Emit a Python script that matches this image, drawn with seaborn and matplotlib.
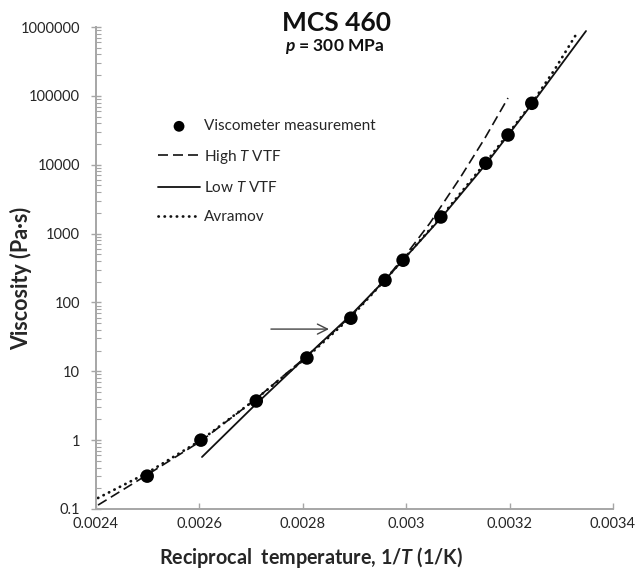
import pandas as pd
import matplotlib.pyplot as plt
import seaborn as sns
from matplotlib.ticker import FixedLocator, LogLocator, NullFormatter

# viscometer measurements
meas_x = [0.002499, 0.002603, 0.00271, 0.002808, 0.002893, 0.002959,
          0.002994, 0.003067, 0.003154, 0.003197, 0.003243]
meas_y = [0.30, 1.0, 3.7, 15.6, 59, 210, 410, 1740, 10500, 27000, 78000]

# high T VTF fit
hi_x = [0.002404, 0.0024986, 0.002603, 0.0027095, 0.0028081, 0.0028932,
        0.002959, 0.0030035, 0.003046, 0.0031041, 0.0031524, 0.0031969]
hi_y = [0.114, 0.312, 0.97, 3.96, 16.7, 63.5, 212, 540, 1422, 6410, 24430, 93100]

# low T VTF fit
lo_x = [0.002605, 0.0027037, 0.0028081, 0.0028932, 0.002959, 0.0030673,
        0.0031544, 0.0032433, 0.0033478]
lo_y = [0.569, 3.03, 16.7, 65.7, 212, 1683, 10240, 76200, 874000]

# Avramov fit
av_x = [0.002404, 0.0024986, 0.002603, 0.0027095, 0.0028081, 0.0028932,
        0.002959, 0.0030673, 0.0031544, 0.0031969, 0.0032433, 0.0032878,
        0.0033304]
av_y = [0.1445, 0.333, 1.0, 3.96, 16.1, 61.4, 212, 1740, 10950, 27900,
        78700, 245000, 818000]

x_ticks = [0.0024, 0.0026, 0.0028, 0.003, 0.0032, 0.0034]
x_labels = ["0.0024", "0.0026", "0.0028", "0.003", "0.0032", "0.0034"]
y_ticks = [0.1, 1, 10, 100, 1000, 10000, 100000, 1000000]
y_labels = ["0.1", "1", "10", "100", "1000", "10000", "100000", "1000000"]

sns.set_theme(style="white")
plt.rcParams["font.family"] = ["Lato", "DejaVu Sans"]
plt.rcParams["mathtext.fontset"] = "custom"
plt.rcParams["mathtext.rm"] = "Lato"
plt.rcParams["mathtext.it"] = "Lato:italic"
plt.rcParams["mathtext.bf"] = "Lato:bold"
plt.rcParams["mathtext.bfit"] = "Lato:bold:italic"

fig = plt.figure(figsize=(6.37, 5.71), dpi=100)
ax = fig.add_axes([0.1507, 0.1086, 0.8116, 0.8441])

meas = pd.DataFrame({"x": meas_x, "y": meas_y})
hi = pd.DataFrame({"x": hi_x, "y": hi_y})
lo = pd.DataFrame({"x": lo_x, "y": lo_y})
av = pd.DataFrame({"x": av_x, "y": av_y})

sns.lineplot(data=hi, x="x", y="y", ax=ax, sort=False, estimator=None,
             color="#111111", lw=1.2, linestyle=(0, (6, 3)), label="High $T$ VTF")
sns.lineplot(data=lo, x="x", y="y", ax=ax, sort=False, estimator=None,
             color="#111111", lw=1.3, label="Low $T$ VTF")
sns.lineplot(data=av, x="x", y="y", ax=ax, sort=False, estimator=None,
             color="#111111", lw=2.0, linestyle=(0, (0.1, 2.1)),
             dash_capstyle="round", label="Avramov")
sns.scatterplot(data=meas, x="x", y="y", ax=ax, color="black", s=95,
                edgecolor="none", zorder=5, label="Viscometer measurement")

ax.set_yscale("log")
ax.set_xlim(0.0024, 0.0034)
ax.set_ylim(0.1, 1000000)

ax.xaxis.set_major_locator(FixedLocator(x_ticks))
ax.set_xticklabels(x_labels)
ax.yaxis.set_major_locator(FixedLocator(y_ticks))
ax.set_yticklabels(y_labels)
ax.yaxis.set_minor_locator(LogLocator(base=10, subs=range(2, 10)))
ax.yaxis.set_minor_formatter(NullFormatter())

for s in ["top", "right"]:
    ax.spines[s].set_visible(False)
for s in ["left", "bottom"]:
    ax.spines[s].set_color("#a6a6a6")
    ax.spines[s].set_linewidth(1.4)

ax.tick_params(axis="x", which="major", direction="in", length=4, width=1,
               color="#a6a6a6", labelsize=10.5, labelcolor="#262626", pad=6,
               bottom=True)
ax.tick_params(axis="y", which="major", direction="inout", length=7, width=1,
               color="#a6a6a6", labelsize=10.5, labelcolor="#262626", pad=8,
               left=True)
ax.tick_params(axis="y", which="minor", direction="in", length=3.5, width=0.8,
               color="#a6a6a6", left=True)

ax.set_xlabel(r"Reciprocal  temperature, 1/$\mathbfit{T}$ (1/K)",
              fontsize=14.2, fontweight="bold", color="#262626")
ax.xaxis.set_label_coords(0.416, -0.074)
ax.set_ylabel("Viscosity (Pa·s)", fontsize=15.5, fontweight="bold",
              color="#262626")
ax.yaxis.set_label_coords(-0.124, 0.479)

fig.text(336 / 637, 1 - 23 / 571, "MCS 460", ha="center", va="center",
         fontsize=19, fontweight="bold", color="#111111")
fig.text(335 / 637, 1 - 47 / 571, r"$\mathbfit{p}$ = 300 MPa", ha="center",
         va="center", fontsize=12.5, fontweight="bold", color="#111111")

# arrow pointing at the curve
ax.annotate("", xy=(0.002856, 41), xytext=(0.002733, 41),
            arrowprops=dict(arrowstyle="->", color="#444444", lw=1.0,
                            mutation_scale=18))

handles, labels = ax.get_legend_handles_labels()
order = [labels.index("Viscometer measurement"), labels.index("High $T$ VTF"),
         labels.index("Low $T$ VTF"), labels.index("Avramov")]
ax.legend([handles[i] for i in order], [labels[i] for i in order],
          loc="center left", bbox_to_anchor=(0.12, 0.70), frameon=False,
          fontsize=11, labelspacing=0.95, handlelength=2.75,
          handletextpad=0.25, borderpad=0, borderaxespad=0, markerscale=0.8,
          labelcolor="#262626")

fig.savefig("out.png", dpi=100)
